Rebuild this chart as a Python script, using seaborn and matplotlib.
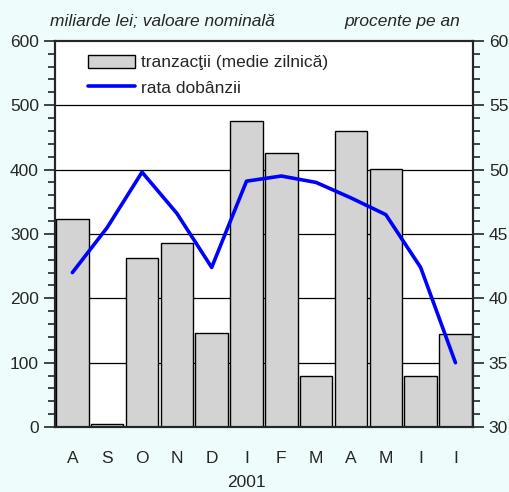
import numpy as np
import pandas as pd
import matplotlib
matplotlib.use("Agg")
import matplotlib.pyplot as plt
import matplotlib.transforms as mtransforms
from matplotlib.patches import Patch
from matplotlib.lines import Line2D
from matplotlib.ticker import MultipleLocator
import seaborn as sns

months = ["A", "S", "O", "N", "D", "I", "F", "M", "A", "M", "I", "I"]
tranzactii = [323, 5, 263, 286, 146, 476, 426, 79, 460, 401, 79, 145]
rata = [42.0, 45.5, 49.8, 46.6, 42.4, 49.1, 49.5, 49.0, 47.8, 46.5, 42.4, 35.0]

df = pd.DataFrame({"pos": [str(i) for i in range(len(months))],
                   "idx": np.arange(len(months)),
                   "tranzactii": tranzactii,
                   "rata": rata})

sns.set_style("white")
plt.rcParams["font.family"] = ["Liberation Sans", "DejaVu Sans"]

BG = "#eefdfb"
fig = plt.figure(figsize=(5.09, 4.92), dpi=100, facecolor=BG)
ax = fig.add_axes([0.108, 0.132, 0.821, 0.785])
ax.set_facecolor("white")

sns.barplot(data=df, x="pos", y="tranzactii", color="#d3d3d3", edgecolor="black",
            linewidth=1.0, width=0.93, saturation=1, ax=ax, zorder=2)
ax.set_xlim(-0.5, len(months) - 0.5)
ax.set_ylim(0, 600)
ax.set_xticks(range(len(months)))
ax.set_xticklabels(months, fontsize=12.5)
ax.set_xlabel("")
ax.set_ylabel("")
ax.tick_params(axis="x", length=0, pad=17)
ax.yaxis.set_major_locator(MultipleLocator(100))
ax.yaxis.set_minor_locator(MultipleLocator(20))
ax.tick_params(axis="y", which="major", direction="out", length=8, width=1.2, labelsize=12.5, left=True)
ax.tick_params(axis="y", which="minor", direction="out", length=5, width=1.2, left=True)
for y in range(100, 600, 100):
    ax.axhline(y, color="black", lw=0.9, zorder=1)
for s in ax.spines.values():
    s.set_linewidth(1.5)
    s.set_color("black")

ax2 = ax.twinx()
sns.lineplot(data=df, x="idx", y="rata", color="#0000ff", lw=2.6, ax=ax2, zorder=3)
ax2.set_ylim(30, 60)
ax2.set_ylabel("")
ax2.yaxis.set_major_locator(MultipleLocator(5))
ax2.yaxis.set_minor_locator(MultipleLocator(1))
ax2.tick_params(axis="y", which="major", direction="out", length=8, width=1.2, labelsize=12.5, right=True)
ax2.tick_params(axis="y", which="minor", direction="out", length=5, width=1.2, right=True)
for s in ax2.spines.values():
    s.set_linewidth(1.5)

handles = [Patch(facecolor="#d3d3d3", edgecolor="black", linewidth=1.0),
           Line2D([0], [0], color="#0000ff", lw=2.6)]
leg = ax2.legend(handles, ["tranzacţii (medie zilnică)", "rata dobânzii"],
                 loc="upper left", bbox_to_anchor=(0.042, 1.005), frameon=False,
                 fontsize=12.5, handlelength=2.7, handleheight=0.85,
                 handletextpad=0.35, labelspacing=0.55)

fig.text(0.098, 0.957, "miliarde lei; valoare nominală", fontsize=12.5, style="italic",
         ha="left", va="center")
fig.text(0.905, 0.957, "procente pe an", fontsize=12.5, style="italic",
         ha="right", va="center")
trans = mtransforms.blended_transform_factory(ax.transData, fig.transFigure)
ax.text(5, 0.02, "2001", transform=trans, ha="center", va="center", fontsize=12.5)

fig.savefig("out.png", dpi=100, facecolor=BG)
